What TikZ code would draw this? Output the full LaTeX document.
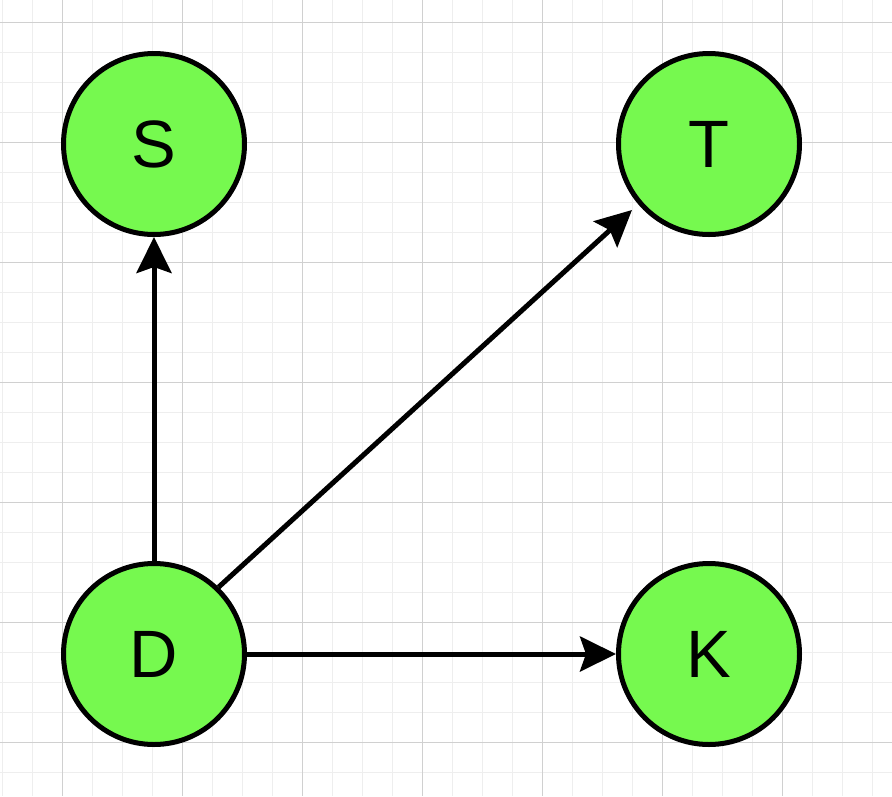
\documentclass[tikz,border=0pt]{standalone}
\usepackage{fontspec}
\setmainfont{Liberation Sans}
\usetikzlibrary{arrows.meta}
\definecolor{nodegreen}{RGB}{118,249,79}
\definecolor{minorgrid}{RGB}{238,238,238}
\definecolor{majorgrid}{RGB}{208,208,208}
\tikzset{
  vertex/.style={circle, draw=black, fill=nodegreen, line width=5pt,
    minimum size=181pt, inner sep=0pt, font=\fontsize{67}{67}\selectfont},
  edge/.style={line width=5pt, -{Stealth[length=36pt, width=35pt, inset=6pt]}},
  minorline/.style={draw=minorgrid, line width=1pt},
  majorline/.style={draw=majorgrid, line width=1pt}
}
\begin{document}
\begin{tikzpicture}[x=1pt, y=-1pt]
\useasboundingbox (0,0) rectangle (892,796);
\fill[white] (0,0) rectangle (892,796);
% minor grid
\foreach \x in {2,32,...,890} \draw[minorline] (\x,0) -- (\x,796);
\foreach \y in {22,52,...,795} \draw[minorline] (0,\y) -- (892,\y);
% major grid
\foreach \x in {62,182,...,890} \draw[majorline] (\x,0) -- (\x,796);
\foreach \y in {22,142,...,795} \draw[majorline] (0,\y) -- (892,\y);
% nodes
\node[vertex] (S) at (154,144) {S};
\node[vertex] (T) at (709,144) {T};
\node[vertex] (D) at (154,654) {D};
\node[vertex] (K) at (709,654) {K};
\coordinate (Ttip) at (632,210);
% edges
\draw[edge] (D.north) -- (S.south);
\draw[edge] (D.46) -- (Ttip);
\draw[edge] (D.east) -- (K.west);
\end{tikzpicture}
\end{document}
